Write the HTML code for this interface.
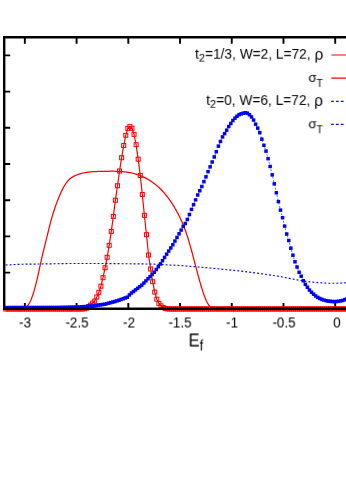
<!DOCTYPE html>
<html><head><meta charset="utf-8"><title>plot</title>
<style>
html,body{margin:0;padding:0;background:#fff;}
body{width:346px;height:494px;position:relative;overflow:hidden;font-family:"Liberation Sans",sans-serif;color:#000;}
.tl,.lg,.xl{will-change:transform;}
.tl{position:absolute;top:314px;transform:translate(0px,0.45px) scaleX(0.955);transform-origin:50% 50%;width:40px;text-align:center;font-size:14px;line-height:16px;white-space:nowrap;}
.lg{position:absolute;right:23px;transform-origin:100% 50%;font-size:13.72px;line-height:16px;white-space:nowrap;text-align:right;}
.lg sub{font-size:0.8em;vertical-align:baseline;position:relative;top:3.3px;line-height:0;}
.lg.s{right:22px;}
.lg.s sub{top:5.0px;font-size:0.86em;display:inline-block;transform:scaleX(0.9);transform-origin:0 50%;}
.lg.s .g{font-size:13.3px;line-height:0;}
.lg .r{font-size:15.4px;line-height:1;display:inline-block;vertical-align:baseline;transform:scale(1,1.13);transform-origin:50% 53%;}
.xl{position:absolute;left:188px;top:329px;transform:translate(0.6px,0.45px) scaleX(0.93);transform-origin:0 0;font-size:17.6px;line-height:22px;white-space:nowrap;}
.xl sub{font-size:0.8em;vertical-align:baseline;position:relative;top:3.7px;line-height:0;}
</style></head><body>
<svg width="346" height="494" viewBox="0 0 346 494" style="position:absolute;left:0;top:0"><defs><clipPath id="c"><rect x="0" y="0" width="346" height="494"/></clipPath></defs><path d="M24.85 37.2 v6.5 M24.85 308.8 v-5.9 M76.58 37.2 v6.5 M76.58 308.8 v-5.9 M128.30 37.2 v6.5 M128.30 308.8 v-5.9 M180.03 37.2 v6.5 M180.03 308.8 v-5.9 M231.75 37.2 v6.5 M231.75 308.8 v-5.9 M283.48 37.2 v6.5 M283.48 308.8 v-5.9 M335.20 37.2 v6.5 M335.20 308.8 v-5.9 M4.2 272.60 h6.0 M4.2 236.40 h6.0 M4.2 200.20 h6.0 M4.2 164.00 h6.0 M4.2 127.80 h6.0 M4.2 91.60 h6.0 M4.2 55.40 h6.0" fill="none" stroke="#000" stroke-width="1.9"/><polyline fill="none" stroke="#ff0000" stroke-width="1.25" points="5.00,308.95 26.30,308.95 27.70,305.58 28.20,304.95 28.70,304.23 29.20,303.41 29.70,302.50 30.20,301.50 30.70,300.41 31.20,299.24 31.70,297.97 32.20,296.62 32.70,295.19 33.20,293.68 33.70,292.08 34.20,290.41 34.70,288.65 35.20,286.83 35.70,284.92 36.20,282.95 36.70,280.90 37.20,278.78 37.70,276.60 38.20,274.36 38.70,272.08 39.20,269.77 39.70,267.44 40.20,265.12 40.70,262.81 41.20,260.52 41.70,258.28 42.20,256.08 42.70,253.96 43.20,251.89 43.70,249.87 44.20,247.87 44.70,245.90 45.20,243.93 45.70,241.95 46.20,239.96 46.70,237.94 47.20,235.91 47.70,233.84 48.20,231.76 48.70,229.67 49.20,227.59 49.70,225.57 50.20,223.60 50.70,221.70 51.20,219.86 51.70,218.09 52.20,216.36 52.70,214.70 53.20,213.08 53.70,211.51 54.20,209.98 54.70,208.50 55.20,207.05 55.70,205.63 56.20,204.25 56.70,202.89 57.20,201.56 57.70,200.26 58.20,198.98 58.70,197.74 59.20,196.52 59.70,195.33 60.20,194.18 60.70,193.05 61.20,191.96 61.70,190.90 62.20,189.88 62.70,188.89 63.20,187.93 63.70,187.01 64.20,186.13 64.70,185.29 65.20,184.48 65.70,183.72 66.20,182.99 66.70,182.30 67.20,181.66 67.70,181.06 68.20,180.49 68.70,179.97 69.20,179.47 69.70,179.02 70.20,178.59 70.70,178.19 71.20,177.82 71.70,177.48 72.20,177.16 72.70,176.86 73.20,176.58 73.70,176.31 74.20,176.06 74.70,175.83 75.20,175.61 75.70,175.39 76.20,175.18 76.70,174.98 77.20,174.79 77.70,174.60 78.20,174.43 78.70,174.26 79.20,174.09 79.70,173.93 80.20,173.78 80.70,173.64 81.20,173.50 81.70,173.37 82.20,173.24 82.70,173.12 83.20,173.01 83.70,172.90 84.20,172.79 84.70,172.70 85.20,172.60 85.70,172.51 86.20,172.43 86.70,172.35 87.20,172.28 87.70,172.21 88.20,172.14 88.70,172.08 89.20,172.02 89.70,171.96 90.20,171.91 90.70,171.87 91.20,171.82 91.70,171.78 92.20,171.74 92.70,171.71 93.20,171.67 93.70,171.64 94.20,171.62 94.70,171.59 95.20,171.57 95.70,171.54 96.20,171.52 96.70,171.51 97.20,171.49 97.70,171.47 98.20,171.46 98.70,171.45 99.20,171.44 99.70,171.42 100.20,171.41 100.70,171.40 101.20,171.39 101.70,171.38 102.20,171.37 102.70,171.36 103.20,171.35 103.70,171.34 104.20,171.33 104.70,171.32 105.20,171.31 105.70,171.30 106.20,171.29 106.70,171.28 107.20,171.27 107.70,171.27 108.20,171.26 108.70,171.25 109.20,171.25 109.70,171.24 110.20,171.24 110.70,171.23 111.20,171.23 111.70,171.23 112.20,171.23 112.70,171.23 113.20,171.23 113.70,171.24 114.20,171.24 114.70,171.25 115.20,171.26 115.70,171.27 116.20,171.28 116.70,171.30 117.20,171.31 117.70,171.33 118.20,171.35 118.70,171.38 119.20,171.40 119.70,171.43 120.20,171.46 120.70,171.49 121.20,171.53 121.70,171.57 122.20,171.61 122.70,171.65 123.20,171.70 123.70,171.75 124.20,171.80 124.70,171.86 125.20,171.92 125.70,171.98 126.20,172.04 126.70,172.11 127.20,172.19 127.70,172.26 128.20,172.34 128.70,172.43 129.20,172.51 129.70,172.61 130.20,172.70 130.70,172.80 131.20,172.90 131.70,173.01 132.20,173.13 132.70,173.24 133.20,173.36 133.70,173.49 134.20,173.62 134.70,173.76 135.20,173.90 135.70,174.04 136.20,174.19 136.70,174.35 137.20,174.50 137.70,174.67 138.20,174.84 138.70,175.02 139.20,175.20 139.70,175.38 140.20,175.58 140.70,175.77 141.20,175.98 141.70,176.19 142.20,176.40 142.70,176.62 143.20,176.85 143.70,177.08 144.20,177.32 144.70,177.57 145.20,177.82 145.70,178.08 146.20,178.34 146.70,178.61 147.20,178.89 147.70,179.17 148.20,179.47 148.70,179.76 149.20,180.07 149.70,180.38 150.20,180.70 150.70,181.03 151.20,181.36 151.70,181.70 152.20,182.05 152.70,182.41 153.20,182.77 153.70,183.14 154.20,183.52 154.70,183.91 155.20,184.30 155.70,184.70 156.20,185.12 156.70,185.54 157.20,185.96 157.70,186.40 158.20,186.85 158.70,187.30 159.20,187.77 159.70,188.24 160.20,188.73 160.70,189.22 161.20,189.73 161.70,190.24 162.20,190.77 162.70,191.30 163.20,191.85 163.70,192.41 164.20,192.98 164.70,193.56 165.20,194.15 165.70,194.75 166.20,195.37 166.70,195.99 167.20,196.63 167.70,197.28 168.20,197.95 168.70,198.62 169.20,199.31 169.70,200.01 170.20,200.73 170.70,201.46 171.20,202.20 171.70,202.95 172.20,203.72 172.70,204.50 173.20,205.30 173.70,206.11 174.20,206.94 174.70,207.78 175.20,208.63 175.70,209.50 176.20,210.39 176.70,211.29 177.20,212.20 177.70,213.14 178.20,214.08 178.70,215.05 179.20,216.04 179.70,217.05 180.20,218.09 180.70,219.15 181.20,220.23 181.70,221.35 182.20,222.49 182.70,223.66 183.20,224.87 183.70,226.11 184.20,227.39 184.70,228.70 185.20,230.05 185.70,231.44 186.20,232.87 186.70,234.34 187.20,235.86 187.70,237.42 188.20,239.03 188.70,240.67 189.20,242.36 189.70,244.07 190.20,245.82 190.70,247.60 191.20,249.40 191.70,251.23 192.20,253.08 192.70,254.94 193.20,256.82 193.70,258.70 194.20,260.60 194.70,262.50 195.20,264.40 195.70,266.30 196.20,268.20 196.70,270.09 197.20,271.96 197.70,273.83 198.20,275.68 198.70,277.51 199.20,279.32 199.70,281.11 200.20,282.86 200.70,284.59 201.20,286.28 201.70,287.93 202.20,289.54 202.70,291.11 203.20,292.62 203.70,294.08 204.20,295.48 204.70,296.82 205.20,298.10 205.70,299.30 206.20,300.44 206.70,301.50 207.20,302.47 207.70,303.36 208.20,304.17 208.70,304.88 209.20,305.50 209.70,306.01 210.20,306.43 212.50,308.30 215.00,308.95 350.00,308.95"/><polyline fill="none" stroke="#ff0000" stroke-width="1.2" points="5.70,308.95 7.77,308.95 9.84,308.95 11.91,308.95 13.98,308.95 16.05,308.95 18.12,308.95 20.19,308.95 22.26,308.95 24.33,308.95 26.40,308.95 28.47,308.95 30.54,308.95 32.61,308.95 34.68,308.95 36.75,308.95 38.82,308.95 40.89,308.95 42.96,308.95 45.03,308.95 47.10,308.95 49.17,308.95 51.24,308.95 53.31,308.95 55.38,308.95 57.45,308.95 59.52,308.95 61.59,308.95 63.66,308.95 65.73,308.95 67.80,308.95 69.87,308.95 71.94,308.95 74.01,308.95 76.08,308.95 78.15,308.95 80.22,308.95 82.29,308.95 84.36,308.70 86.43,308.10 88.50,306.70 90.57,305.10 92.64,303.10 94.71,301.00 96.78,297.00 98.85,292.30 100.92,286.20 102.99,277.70 105.06,267.80 107.13,257.30 109.20,245.30 111.27,231.40 113.34,216.40 115.41,200.20 117.48,185.75 119.55,171.00 121.62,157.70 123.69,145.50 125.76,135.30 127.83,128.45 129.90,126.60 131.97,128.30 134.04,134.35 136.11,144.75 138.18,159.20 140.25,175.50 142.32,194.50 144.39,215.30 146.46,234.70 148.53,255.00 150.60,269.00 152.67,281.70 154.74,292.10 156.81,299.20 158.88,303.40 160.95,305.80 163.02,307.50 165.09,308.40 167.16,308.80 169.23,308.95 171.30,308.95 173.37,308.95 175.44,308.95 177.51,308.95 179.58,308.95 181.65,308.95 183.72,308.95 185.79,308.95 187.86,308.95 189.93,308.95 192.00,308.95 194.07,308.95 196.14,308.95 198.21,308.95 200.28,308.95 202.35,308.95 204.42,308.95 206.49,308.95 208.56,308.95 210.63,308.95 212.70,308.95 214.77,308.95 216.84,308.95 218.91,308.95 220.98,308.95 223.05,308.95 225.12,308.95 227.19,308.95 229.26,308.95 231.33,308.95 233.40,308.95 235.47,308.95 237.54,308.95 239.61,308.95 241.68,308.95 243.75,308.95 245.82,308.95 247.89,308.95 249.96,308.95 252.03,308.95 254.10,308.95 256.17,308.95 258.24,308.95 260.31,308.95 262.38,308.95 264.45,308.95 266.52,308.95 268.59,308.95 270.66,308.95 272.73,308.95 274.80,308.95 276.87,308.95 278.94,308.95 281.01,308.95 283.08,308.95 285.15,308.95 287.22,308.95 289.29,308.95 291.36,308.95 293.43,308.95 295.50,308.95 297.57,308.95 299.64,308.95 301.71,308.95 303.78,308.95 305.85,308.95 307.92,308.95 309.99,308.95 312.06,308.95 314.13,308.95 316.20,308.95 318.27,308.95 320.34,308.95 322.41,308.95 324.48,308.95 326.55,308.95 328.62,308.95 330.69,308.95 332.76,308.95 334.83,308.95 336.90,308.95 338.97,308.95 341.04,308.95 343.11,308.95 345.18,308.95 347.25,308.95"/><g fill="none" stroke="#ff0000" stroke-width="1"><rect x="3.70" y="306.95" width="4.0" height="4.0"/><rect x="5.77" y="306.95" width="4.0" height="4.0"/><rect x="7.84" y="306.95" width="4.0" height="4.0"/><rect x="9.91" y="306.95" width="4.0" height="4.0"/><rect x="11.98" y="306.95" width="4.0" height="4.0"/><rect x="14.05" y="306.95" width="4.0" height="4.0"/><rect x="16.12" y="306.95" width="4.0" height="4.0"/><rect x="18.19" y="306.95" width="4.0" height="4.0"/><rect x="20.26" y="306.95" width="4.0" height="4.0"/><rect x="22.33" y="306.95" width="4.0" height="4.0"/><rect x="24.40" y="306.95" width="4.0" height="4.0"/><rect x="26.47" y="306.95" width="4.0" height="4.0"/><rect x="28.54" y="306.95" width="4.0" height="4.0"/><rect x="30.61" y="306.95" width="4.0" height="4.0"/><rect x="32.68" y="306.95" width="4.0" height="4.0"/><rect x="34.75" y="306.95" width="4.0" height="4.0"/><rect x="36.82" y="306.95" width="4.0" height="4.0"/><rect x="38.89" y="306.95" width="4.0" height="4.0"/><rect x="40.96" y="306.95" width="4.0" height="4.0"/><rect x="43.03" y="306.95" width="4.0" height="4.0"/><rect x="45.10" y="306.95" width="4.0" height="4.0"/><rect x="47.17" y="306.95" width="4.0" height="4.0"/><rect x="49.24" y="306.95" width="4.0" height="4.0"/><rect x="51.31" y="306.95" width="4.0" height="4.0"/><rect x="53.38" y="306.95" width="4.0" height="4.0"/><rect x="55.45" y="306.95" width="4.0" height="4.0"/><rect x="57.52" y="306.95" width="4.0" height="4.0"/><rect x="59.59" y="306.95" width="4.0" height="4.0"/><rect x="61.66" y="306.95" width="4.0" height="4.0"/><rect x="63.73" y="306.95" width="4.0" height="4.0"/><rect x="65.80" y="306.95" width="4.0" height="4.0"/><rect x="67.87" y="306.95" width="4.0" height="4.0"/><rect x="69.94" y="306.95" width="4.0" height="4.0"/><rect x="72.01" y="306.95" width="4.0" height="4.0"/><rect x="74.08" y="306.95" width="4.0" height="4.0"/><rect x="76.15" y="306.95" width="4.0" height="4.0"/><rect x="78.22" y="306.95" width="4.0" height="4.0"/><rect x="80.29" y="306.95" width="4.0" height="4.0"/><rect x="82.36" y="306.70" width="4.0" height="4.0"/><rect x="84.43" y="306.10" width="4.0" height="4.0"/><rect x="86.50" y="304.70" width="4.0" height="4.0"/><rect x="88.57" y="303.10" width="4.0" height="4.0"/><rect x="90.64" y="301.10" width="4.0" height="4.0"/><rect x="92.71" y="299.00" width="4.0" height="4.0"/><rect x="94.78" y="295.00" width="4.0" height="4.0"/><rect x="96.85" y="290.30" width="4.0" height="4.0"/><rect x="98.92" y="284.20" width="4.0" height="4.0"/><rect x="100.99" y="275.70" width="4.0" height="4.0"/><rect x="103.06" y="265.80" width="4.0" height="4.0"/><rect x="105.13" y="255.30" width="4.0" height="4.0"/><rect x="107.20" y="243.30" width="4.0" height="4.0"/><rect x="109.27" y="229.40" width="4.0" height="4.0"/><rect x="111.34" y="214.40" width="4.0" height="4.0"/><rect x="113.41" y="198.20" width="4.0" height="4.0"/><rect x="115.48" y="183.75" width="4.0" height="4.0"/><rect x="117.55" y="169.00" width="4.0" height="4.0"/><rect x="119.62" y="155.70" width="4.0" height="4.0"/><rect x="121.69" y="143.50" width="4.0" height="4.0"/><rect x="123.76" y="133.30" width="4.0" height="4.0"/><rect x="125.83" y="126.45" width="4.0" height="4.0"/><rect x="127.90" y="124.60" width="4.0" height="4.0"/><rect x="129.97" y="126.30" width="4.0" height="4.0"/><rect x="132.04" y="132.35" width="4.0" height="4.0"/><rect x="134.11" y="142.75" width="4.0" height="4.0"/><rect x="136.18" y="157.20" width="4.0" height="4.0"/><rect x="138.25" y="173.50" width="4.0" height="4.0"/><rect x="140.32" y="192.50" width="4.0" height="4.0"/><rect x="142.39" y="213.30" width="4.0" height="4.0"/><rect x="144.46" y="232.70" width="4.0" height="4.0"/><rect x="146.53" y="253.00" width="4.0" height="4.0"/><rect x="148.60" y="267.00" width="4.0" height="4.0"/><rect x="150.67" y="279.70" width="4.0" height="4.0"/><rect x="152.74" y="290.10" width="4.0" height="4.0"/><rect x="154.81" y="297.20" width="4.0" height="4.0"/><rect x="156.88" y="301.40" width="4.0" height="4.0"/><rect x="158.95" y="303.80" width="4.0" height="4.0"/><rect x="161.02" y="305.50" width="4.0" height="4.0"/><rect x="163.09" y="306.40" width="4.0" height="4.0"/><rect x="165.16" y="306.80" width="4.0" height="4.0"/><rect x="167.23" y="306.95" width="4.0" height="4.0"/><rect x="169.30" y="306.95" width="4.0" height="4.0"/><rect x="171.37" y="306.95" width="4.0" height="4.0"/><rect x="173.44" y="306.95" width="4.0" height="4.0"/><rect x="175.51" y="306.95" width="4.0" height="4.0"/><rect x="177.58" y="306.95" width="4.0" height="4.0"/><rect x="179.65" y="306.95" width="4.0" height="4.0"/><rect x="181.72" y="306.95" width="4.0" height="4.0"/><rect x="183.79" y="306.95" width="4.0" height="4.0"/><rect x="185.86" y="306.95" width="4.0" height="4.0"/><rect x="187.93" y="306.95" width="4.0" height="4.0"/><rect x="190.00" y="306.95" width="4.0" height="4.0"/><rect x="192.07" y="306.95" width="4.0" height="4.0"/><rect x="194.14" y="306.95" width="4.0" height="4.0"/><rect x="196.21" y="306.95" width="4.0" height="4.0"/><rect x="198.28" y="306.95" width="4.0" height="4.0"/><rect x="200.35" y="306.95" width="4.0" height="4.0"/><rect x="202.42" y="306.95" width="4.0" height="4.0"/><rect x="204.49" y="306.95" width="4.0" height="4.0"/><rect x="206.56" y="306.95" width="4.0" height="4.0"/><rect x="208.63" y="306.95" width="4.0" height="4.0"/><rect x="210.70" y="306.95" width="4.0" height="4.0"/><rect x="212.77" y="306.95" width="4.0" height="4.0"/><rect x="214.84" y="306.95" width="4.0" height="4.0"/><rect x="216.91" y="306.95" width="4.0" height="4.0"/><rect x="218.98" y="306.95" width="4.0" height="4.0"/><rect x="221.05" y="306.95" width="4.0" height="4.0"/><rect x="223.12" y="306.95" width="4.0" height="4.0"/><rect x="225.19" y="306.95" width="4.0" height="4.0"/><rect x="227.26" y="306.95" width="4.0" height="4.0"/><rect x="229.33" y="306.95" width="4.0" height="4.0"/><rect x="231.40" y="306.95" width="4.0" height="4.0"/><rect x="233.47" y="306.95" width="4.0" height="4.0"/><rect x="235.54" y="306.95" width="4.0" height="4.0"/><rect x="237.61" y="306.95" width="4.0" height="4.0"/><rect x="239.68" y="306.95" width="4.0" height="4.0"/><rect x="241.75" y="306.95" width="4.0" height="4.0"/><rect x="243.82" y="306.95" width="4.0" height="4.0"/><rect x="245.89" y="306.95" width="4.0" height="4.0"/><rect x="247.96" y="306.95" width="4.0" height="4.0"/><rect x="250.03" y="306.95" width="4.0" height="4.0"/><rect x="252.10" y="306.95" width="4.0" height="4.0"/><rect x="254.17" y="306.95" width="4.0" height="4.0"/><rect x="256.24" y="306.95" width="4.0" height="4.0"/><rect x="258.31" y="306.95" width="4.0" height="4.0"/><rect x="260.38" y="306.95" width="4.0" height="4.0"/><rect x="262.45" y="306.95" width="4.0" height="4.0"/><rect x="264.52" y="306.95" width="4.0" height="4.0"/><rect x="266.59" y="306.95" width="4.0" height="4.0"/><rect x="268.66" y="306.95" width="4.0" height="4.0"/><rect x="270.73" y="306.95" width="4.0" height="4.0"/><rect x="272.80" y="306.95" width="4.0" height="4.0"/><rect x="274.87" y="306.95" width="4.0" height="4.0"/><rect x="276.94" y="306.95" width="4.0" height="4.0"/><rect x="279.01" y="306.95" width="4.0" height="4.0"/><rect x="281.08" y="306.95" width="4.0" height="4.0"/><rect x="283.15" y="306.95" width="4.0" height="4.0"/><rect x="285.22" y="306.95" width="4.0" height="4.0"/><rect x="287.29" y="306.95" width="4.0" height="4.0"/><rect x="289.36" y="306.95" width="4.0" height="4.0"/><rect x="291.43" y="306.95" width="4.0" height="4.0"/><rect x="293.50" y="306.95" width="4.0" height="4.0"/><rect x="295.57" y="306.95" width="4.0" height="4.0"/><rect x="297.64" y="306.95" width="4.0" height="4.0"/><rect x="299.71" y="306.95" width="4.0" height="4.0"/><rect x="301.78" y="306.95" width="4.0" height="4.0"/><rect x="303.85" y="306.95" width="4.0" height="4.0"/><rect x="305.92" y="306.95" width="4.0" height="4.0"/><rect x="307.99" y="306.95" width="4.0" height="4.0"/><rect x="310.06" y="306.95" width="4.0" height="4.0"/><rect x="312.13" y="306.95" width="4.0" height="4.0"/><rect x="314.20" y="306.95" width="4.0" height="4.0"/><rect x="316.27" y="306.95" width="4.0" height="4.0"/><rect x="318.34" y="306.95" width="4.0" height="4.0"/><rect x="320.41" y="306.95" width="4.0" height="4.0"/><rect x="322.48" y="306.95" width="4.0" height="4.0"/><rect x="324.55" y="306.95" width="4.0" height="4.0"/><rect x="326.62" y="306.95" width="4.0" height="4.0"/><rect x="328.69" y="306.95" width="4.0" height="4.0"/><rect x="330.76" y="306.95" width="4.0" height="4.0"/><rect x="332.83" y="306.95" width="4.0" height="4.0"/><rect x="334.90" y="306.95" width="4.0" height="4.0"/><rect x="336.97" y="306.95" width="4.0" height="4.0"/><rect x="339.04" y="306.95" width="4.0" height="4.0"/><rect x="341.11" y="306.95" width="4.0" height="4.0"/><rect x="343.18" y="306.95" width="4.0" height="4.0"/><rect x="345.25" y="306.95" width="4.0" height="4.0"/></g><polyline fill="none" stroke="#0000ff" stroke-width="1.15" stroke-dasharray="1.9 2.1" points="5.60,265.00 23.00,264.20 40.00,264.00 70.00,263.50 100.00,263.50 130.00,263.80 150.00,264.00 180.00,265.50 210.00,268.00 240.00,271.00 260.00,273.50 280.00,276.50 289.50,278.40 299.10,280.30 308.60,281.70 318.20,282.60 327.70,283.20 337.20,283.20 346.00,282.80 350.00,282.60"/><polyline fill="none" stroke="#0000ff" stroke-width="0.6" stroke-dasharray="2 1.8" points="5.18,307.60 7.25,307.60 9.32,307.59 11.39,307.59 13.46,307.58 15.53,307.58 17.60,307.58 19.67,307.57 21.74,307.57 23.81,307.57 25.88,307.56 27.95,307.56 30.02,307.55 32.09,307.55 34.16,307.55 36.23,307.54 38.30,307.54 40.37,307.54 42.44,307.53 44.51,307.53 46.58,307.52 48.65,307.52 50.72,307.52 52.79,307.51 54.86,307.51 56.93,307.51 59.00,307.50 61.07,307.47 63.14,307.42 65.21,307.37 67.28,307.32 69.35,307.27 71.42,307.21 73.49,307.16 75.56,307.11 77.63,307.06 79.70,307.01 81.77,306.85 83.84,306.68 85.91,306.51 87.98,306.33 90.05,306.16 92.12,305.98 94.19,305.70 96.26,305.41 98.33,305.13 100.40,304.84 102.47,304.55 104.54,304.24 106.61,303.69 108.68,303.14 110.75,302.59 112.82,302.05 114.89,301.50 116.96,300.90 119.03,300.16 121.10,299.42 123.17,298.69 125.24,297.95 127.31,297.21 129.38,294.96 131.45,293.00 133.52,291.42 135.59,289.85 137.66,288.28 139.73,286.70 141.80,285.13 143.87,283.06 145.94,280.90 148.01,278.75 150.08,276.59 152.15,274.44 154.22,272.28 156.29,269.51 158.36,266.71 160.43,263.91 162.50,260.75 164.57,257.43 166.64,254.14 168.71,251.02 170.78,247.89 172.85,244.69 174.92,241.06 176.99,237.42 179.06,233.78 181.13,230.08 183.20,226.38 185.27,223.51 187.34,219.48 189.41,214.52 191.48,209.45 193.55,204.68 195.62,199.89 197.69,194.96 199.76,190.68 201.83,186.53 203.90,181.67 205.97,176.82 208.04,171.67 210.11,166.82 212.18,162.01 214.25,156.93 216.32,151.72 218.39,146.14 220.46,141.44 222.53,136.93 224.60,133.63 226.67,130.17 228.74,126.55 230.81,123.48 232.88,120.51 234.95,118.17 237.02,116.24 239.09,114.63 241.16,113.85 243.23,113.22 245.30,112.80 247.37,113.19 249.44,114.75 251.51,116.96 253.58,120.06 255.65,124.20 257.72,128.15 259.79,132.66 261.86,139.17 263.93,145.30 266.00,151.12 268.07,158.66 270.14,166.47 272.21,174.84 274.28,183.85 276.35,192.81 278.42,201.60 280.49,210.10 282.56,217.74 284.63,226.12 286.70,234.01 288.77,240.48 290.84,248.21 292.91,255.20 294.98,261.80 297.05,267.02 299.12,272.25 301.19,276.21 303.26,280.77 305.33,284.36 307.40,287.27 309.47,290.06 311.54,292.29 313.61,294.20 315.68,295.97 317.75,297.40 319.82,298.47 321.89,299.37 323.96,300.12 326.03,300.64 328.10,301.10 330.17,301.34 332.24,301.53 334.31,301.61 336.38,301.54 338.45,301.32 340.52,300.92 342.59,300.44 344.66,299.69 346.73,298.88 348.80,298.10"/><g fill="#0000ff"><rect x="3.43" y="305.85" width="3.5" height="3.5"/><rect x="5.50" y="305.85" width="3.5" height="3.5"/><rect x="7.57" y="305.84" width="3.5" height="3.5"/><rect x="9.64" y="305.84" width="3.5" height="3.5"/><rect x="11.71" y="305.83" width="3.5" height="3.5"/><rect x="13.78" y="305.83" width="3.5" height="3.5"/><rect x="15.85" y="305.83" width="3.5" height="3.5"/><rect x="17.92" y="305.82" width="3.5" height="3.5"/><rect x="19.99" y="305.82" width="3.5" height="3.5"/><rect x="22.06" y="305.82" width="3.5" height="3.5"/><rect x="24.13" y="305.81" width="3.5" height="3.5"/><rect x="26.20" y="305.81" width="3.5" height="3.5"/><rect x="28.27" y="305.80" width="3.5" height="3.5"/><rect x="30.34" y="305.80" width="3.5" height="3.5"/><rect x="32.41" y="305.80" width="3.5" height="3.5"/><rect x="34.48" y="305.79" width="3.5" height="3.5"/><rect x="36.55" y="305.79" width="3.5" height="3.5"/><rect x="38.62" y="305.79" width="3.5" height="3.5"/><rect x="40.69" y="305.78" width="3.5" height="3.5"/><rect x="42.76" y="305.78" width="3.5" height="3.5"/><rect x="44.83" y="305.77" width="3.5" height="3.5"/><rect x="46.90" y="305.77" width="3.5" height="3.5"/><rect x="48.97" y="305.77" width="3.5" height="3.5"/><rect x="51.04" y="305.76" width="3.5" height="3.5"/><rect x="53.11" y="305.76" width="3.5" height="3.5"/><rect x="55.18" y="305.76" width="3.5" height="3.5"/><rect x="57.25" y="305.75" width="3.5" height="3.5"/><rect x="59.32" y="305.72" width="3.5" height="3.5"/><rect x="61.39" y="305.67" width="3.5" height="3.5"/><rect x="63.46" y="305.62" width="3.5" height="3.5"/><rect x="65.53" y="305.57" width="3.5" height="3.5"/><rect x="67.60" y="305.52" width="3.5" height="3.5"/><rect x="69.67" y="305.46" width="3.5" height="3.5"/><rect x="71.74" y="305.41" width="3.5" height="3.5"/><rect x="73.81" y="305.36" width="3.5" height="3.5"/><rect x="75.88" y="305.31" width="3.5" height="3.5"/><rect x="77.95" y="305.26" width="3.5" height="3.5"/><rect x="80.02" y="305.10" width="3.5" height="3.5"/><rect x="82.09" y="304.93" width="3.5" height="3.5"/><rect x="84.16" y="304.76" width="3.5" height="3.5"/><rect x="86.23" y="304.58" width="3.5" height="3.5"/><rect x="88.30" y="304.41" width="3.5" height="3.5"/><rect x="90.37" y="304.23" width="3.5" height="3.5"/><rect x="92.44" y="303.95" width="3.5" height="3.5"/><rect x="94.51" y="303.66" width="3.5" height="3.5"/><rect x="96.58" y="303.38" width="3.5" height="3.5"/><rect x="98.65" y="303.09" width="3.5" height="3.5"/><rect x="100.72" y="302.80" width="3.5" height="3.5"/><rect x="102.79" y="302.49" width="3.5" height="3.5"/><rect x="104.86" y="301.94" width="3.5" height="3.5"/><rect x="106.93" y="301.39" width="3.5" height="3.5"/><rect x="109.00" y="300.84" width="3.5" height="3.5"/><rect x="111.07" y="300.30" width="3.5" height="3.5"/><rect x="113.14" y="299.75" width="3.5" height="3.5"/><rect x="115.21" y="299.15" width="3.5" height="3.5"/><rect x="117.28" y="298.41" width="3.5" height="3.5"/><rect x="119.35" y="297.67" width="3.5" height="3.5"/><rect x="121.42" y="296.94" width="3.5" height="3.5"/><rect x="123.49" y="296.20" width="3.5" height="3.5"/><rect x="125.56" y="295.46" width="3.5" height="3.5"/><rect x="127.63" y="293.21" width="3.5" height="3.5"/><rect x="129.70" y="291.25" width="3.5" height="3.5"/><rect x="131.77" y="289.67" width="3.5" height="3.5"/><rect x="133.84" y="288.10" width="3.5" height="3.5"/><rect x="135.91" y="286.53" width="3.5" height="3.5"/><rect x="137.98" y="284.95" width="3.5" height="3.5"/><rect x="140.05" y="283.38" width="3.5" height="3.5"/><rect x="142.12" y="281.31" width="3.5" height="3.5"/><rect x="144.19" y="279.15" width="3.5" height="3.5"/><rect x="146.26" y="277.00" width="3.5" height="3.5"/><rect x="148.33" y="274.84" width="3.5" height="3.5"/><rect x="150.40" y="272.69" width="3.5" height="3.5"/><rect x="152.47" y="270.53" width="3.5" height="3.5"/><rect x="154.54" y="267.76" width="3.5" height="3.5"/><rect x="156.61" y="264.96" width="3.5" height="3.5"/><rect x="158.68" y="262.16" width="3.5" height="3.5"/><rect x="160.75" y="259.00" width="3.5" height="3.5"/><rect x="162.82" y="255.68" width="3.5" height="3.5"/><rect x="164.89" y="252.39" width="3.5" height="3.5"/><rect x="166.96" y="249.27" width="3.5" height="3.5"/><rect x="169.03" y="246.14" width="3.5" height="3.5"/><rect x="171.10" y="242.94" width="3.5" height="3.5"/><rect x="173.17" y="239.31" width="3.5" height="3.5"/><rect x="175.24" y="235.67" width="3.5" height="3.5"/><rect x="177.31" y="232.03" width="3.5" height="3.5"/><rect x="179.38" y="228.33" width="3.5" height="3.5"/><rect x="181.45" y="224.63" width="3.5" height="3.5"/><rect x="183.52" y="221.76" width="3.5" height="3.5"/><rect x="185.59" y="217.73" width="3.5" height="3.5"/><rect x="187.66" y="212.77" width="3.5" height="3.5"/><rect x="189.73" y="207.70" width="3.5" height="3.5"/><rect x="191.80" y="202.93" width="3.5" height="3.5"/><rect x="193.87" y="198.14" width="3.5" height="3.5"/><rect x="195.94" y="193.21" width="3.5" height="3.5"/><rect x="198.01" y="188.93" width="3.5" height="3.5"/><rect x="200.08" y="184.78" width="3.5" height="3.5"/><rect x="202.15" y="179.92" width="3.5" height="3.5"/><rect x="204.22" y="175.07" width="3.5" height="3.5"/><rect x="206.29" y="169.92" width="3.5" height="3.5"/><rect x="208.36" y="165.07" width="3.5" height="3.5"/><rect x="210.43" y="160.26" width="3.5" height="3.5"/><rect x="212.50" y="155.18" width="3.5" height="3.5"/><rect x="214.57" y="149.97" width="3.5" height="3.5"/><rect x="216.64" y="144.39" width="3.5" height="3.5"/><rect x="218.71" y="139.69" width="3.5" height="3.5"/><rect x="220.78" y="135.18" width="3.5" height="3.5"/><rect x="222.85" y="131.88" width="3.5" height="3.5"/><rect x="224.92" y="128.42" width="3.5" height="3.5"/><rect x="226.99" y="124.80" width="3.5" height="3.5"/><rect x="229.06" y="121.73" width="3.5" height="3.5"/><rect x="231.13" y="118.76" width="3.5" height="3.5"/><rect x="233.20" y="116.42" width="3.5" height="3.5"/><rect x="235.27" y="114.49" width="3.5" height="3.5"/><rect x="237.34" y="112.88" width="3.5" height="3.5"/><rect x="239.41" y="112.10" width="3.5" height="3.5"/><rect x="241.48" y="111.47" width="3.5" height="3.5"/><rect x="243.55" y="111.05" width="3.5" height="3.5"/><rect x="245.62" y="111.44" width="3.5" height="3.5"/><rect x="247.69" y="113.00" width="3.5" height="3.5"/><rect x="249.76" y="115.21" width="3.5" height="3.5"/><rect x="251.83" y="118.31" width="3.5" height="3.5"/><rect x="253.90" y="122.45" width="3.5" height="3.5"/><rect x="255.97" y="126.40" width="3.5" height="3.5"/><rect x="258.04" y="130.91" width="3.5" height="3.5"/><rect x="260.11" y="137.42" width="3.5" height="3.5"/><rect x="262.18" y="143.55" width="3.5" height="3.5"/><rect x="264.25" y="149.37" width="3.5" height="3.5"/><rect x="266.32" y="156.91" width="3.5" height="3.5"/><rect x="268.39" y="164.72" width="3.5" height="3.5"/><rect x="270.46" y="173.09" width="3.5" height="3.5"/><rect x="272.53" y="182.10" width="3.5" height="3.5"/><rect x="274.60" y="191.06" width="3.5" height="3.5"/><rect x="276.67" y="199.85" width="3.5" height="3.5"/><rect x="278.74" y="208.35" width="3.5" height="3.5"/><rect x="280.81" y="215.99" width="3.5" height="3.5"/><rect x="282.88" y="224.37" width="3.5" height="3.5"/><rect x="284.95" y="232.26" width="3.5" height="3.5"/><rect x="287.02" y="238.73" width="3.5" height="3.5"/><rect x="289.09" y="246.46" width="3.5" height="3.5"/><rect x="291.16" y="253.45" width="3.5" height="3.5"/><rect x="293.23" y="260.05" width="3.5" height="3.5"/><rect x="295.30" y="265.27" width="3.5" height="3.5"/><rect x="297.37" y="270.50" width="3.5" height="3.5"/><rect x="299.44" y="274.46" width="3.5" height="3.5"/><rect x="301.51" y="279.02" width="3.5" height="3.5"/><rect x="303.58" y="282.61" width="3.5" height="3.5"/><rect x="305.65" y="285.52" width="3.5" height="3.5"/><rect x="307.72" y="288.31" width="3.5" height="3.5"/><rect x="309.79" y="290.54" width="3.5" height="3.5"/><rect x="311.86" y="292.45" width="3.5" height="3.5"/><rect x="313.93" y="294.22" width="3.5" height="3.5"/><rect x="316.00" y="295.65" width="3.5" height="3.5"/><rect x="318.07" y="296.72" width="3.5" height="3.5"/><rect x="320.14" y="297.62" width="3.5" height="3.5"/><rect x="322.21" y="298.37" width="3.5" height="3.5"/><rect x="324.28" y="298.89" width="3.5" height="3.5"/><rect x="326.35" y="299.35" width="3.5" height="3.5"/><rect x="328.42" y="299.59" width="3.5" height="3.5"/><rect x="330.49" y="299.78" width="3.5" height="3.5"/><rect x="332.56" y="299.86" width="3.5" height="3.5"/><rect x="334.63" y="299.79" width="3.5" height="3.5"/><rect x="336.70" y="299.57" width="3.5" height="3.5"/><rect x="338.77" y="299.17" width="3.5" height="3.5"/><rect x="340.84" y="298.69" width="3.5" height="3.5"/><rect x="342.91" y="297.94" width="3.5" height="3.5"/><rect x="344.98" y="297.13" width="3.5" height="3.5"/><rect x="347.05" y="296.35" width="3.5" height="3.5"/></g><path d="M4.2 310.0 V37.2 H346" fill="none" stroke="#000" stroke-width="2.4" stroke-linejoin="miter"/><path d="M4.2 308.8 H346" fill="none" stroke="#000" stroke-width="2.4"/><path d="M331.4 55.0 H346 M331.4 78.2 H346" stroke="#ff0000" stroke-width="1.2" fill="none"/><path d="M331.2 101.35 H344.5 M331.2 124.4 H344.5" stroke="#0000ff" stroke-width="1.15" stroke-dasharray="2.6 2.27" fill="none"/></svg>
<div class="tl" style="left:5.10px">-3</div><div class="tl" style="left:56.85px">-2.5</div><div class="tl" style="left:108.60px">-2</div><div class="tl" style="left:160.35px">-1.5</div><div class="tl" style="left:212.10px">-1</div><div class="tl" style="left:263.85px">-0.5</div><div class="tl" style="left:316.90px">0</div>
<div class="lg" style="top:47px;transform:translate(0.1px,-1.2px) scale(1,0.97)">t<sub>2</sub>=1/3, W=2, L=72, <span class="r">&rho;</span></div>
<div class="lg s" style="top:70px;transform:translate(-0.6px,-0.1px) scale(1,0.999)"><span class="g">&sigma;</span><sub>T</sub></div>
<div class="lg" style="top:93px;transform:translate(0.2px,-1.0px) scale(1,0.97)">t<sub>2</sub>=0, W=6, L=72, <span class="r">&rho;</span></div>
<div class="lg s" style="top:116px;transform:translate(-0.6px,0.2px) scale(1,0.999)"><span class="g">&sigma;</span><sub>T</sub></div>
<div class="xl">E<sub>f</sub></div>
</body></html>
